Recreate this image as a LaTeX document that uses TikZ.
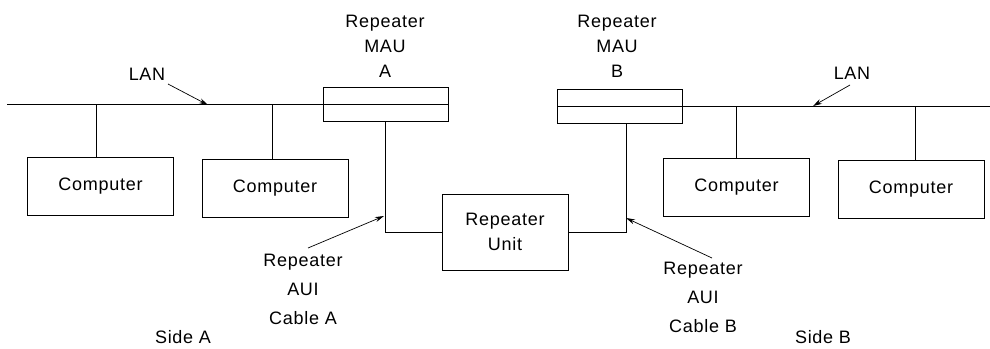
\documentclass[tikz,border=0pt]{standalone}
\usepackage{fontspec}
\setmainfont[LetterSpace=4]{Liberation Sans}
\usetikzlibrary{arrows.meta}
\begin{document}
\begin{tikzpicture}[x=1pt,y=-1pt,line width=0.8pt,
  comp/.style={draw,rectangle,minimum width=146pt,minimum height=58pt,inner sep=0pt,font=\fontsize{18}{20}\selectfont},
  mau/.style={draw,rectangle,minimum width=125pt,minimum height=34pt,inner sep=0pt},
  lbl/.style={align=center,inner sep=0pt,font=\fontsize{18}{25}\selectfont},
  lbl2/.style={align=center,inner sep=0pt,font=\fontsize{18}{29}\selectfont},
  arr/.style={-{Stealth[length=9pt,width=5pt]},line width=0.7pt}]
\useasboundingbox (0,0) rectangle (990,348);
% MAUs
\node[mau] (mauA) at (385.5,104) {};
\node[mau] (mauB) at (620,106) {};
\draw (mauA.west) -- (mauA.east);
\draw (mauB.west) -- (mauB.east);
% LAN ends
\coordinate (lanL) at (7,104);
\coordinate (lanR) at (990,106);
\draw (lanL) -- (mauA.west);
\draw (mauB.east) -- (lanR);
% computers
\node[comp] (c1) at (100.5,186) {Computer};
\node[comp] (c2) at (275,188) {Computer};
\node[comp] (c3) at (736.5,187.5) {Computer};
\node[comp] (c4) at (911,189) {Computer};
\draw (c1.north -| 96,0) -- (96,104);
\draw (c2.north -| 272,0) -- (272,104);
\draw (c3.north) -- (c3.north |- lanR);
\draw (c4.north -| 915,0) -- (915,106);
% repeater unit
\node[draw,rectangle,minimum width=126pt,minimum height=76pt,inner sep=0pt,lbl] (ru) at (505,232) {Repeater\\Unit};
\coordinate (dropB) at ([xshift=6pt]mauB.south);
\draw (mauA.south) -- (mauA.south |- ru.west) -- (ru.west);
\draw (ru.east) -- (ru.east -| dropB) -- (dropB);
% labels
\node[lbl] (tA) at (385,46) {Repeater\\MAU\\A};
\node[lbl] (tB) at (617,46) {Repeater\\MAU\\B};
\node[lbl] (lanLt) at (147,74) {LAN};
\node[lbl] (lanRt) at (852,73) {LAN};
\coordinate (lanLtip) at (208,105);
\coordinate (lanRtip) at (813,106);
\draw[arr] (168,84) -- (lanLtip);
\draw[arr] (850,85) -- (lanRtip);
\node[lbl2] (auiA) at (303,289) {Repeater\\AUI\\Cable A};
\node[lbl2] (auiB) at (703,297) {Repeater\\AUI\\Cable B};
\coordinate (tipA) at (384,216);
\coordinate (tipB) at (626,218);
\draw[arr] (308,248) -- (tipA);
\draw[arr] (712,258) -- (tipB);
\node[lbl] (sideA) at (183,337) {Side A};
\node[lbl] (sideB) at (823,337) {Side B};
\end{tikzpicture}
\end{document}
